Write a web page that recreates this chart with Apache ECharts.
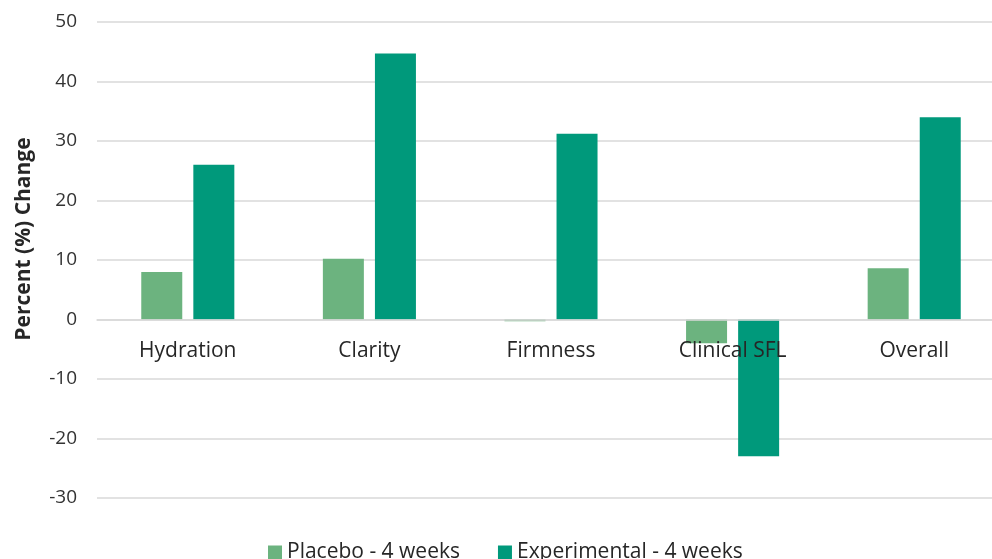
<!DOCTYPE html>
<html>
<head>
<meta charset="utf-8">
<script src="https://cdn.jsdelivr.net/npm/echarts@6/dist/echarts.min.js"></script>
<style>
  html, body { margin: 0; padding: 0; background: #fff; }
  #chart { width: 992px; height: 559px; }
</style>
</head>
<body>
<div id="chart"></div>
<script>
// Categories measured and the two treatment arms (percent change at 4 weeks)
const categories = ['Hydration', 'Clarity', 'Firmness', 'Clinical SFL', 'Overall'];
const placeboValues = [8.0, 10.2, -0.3, -4.0, 8.6];
const experimentalValues = [26.0, 44.7, 31.2, -23.0, 34.0];
const seriesNames = ['Placebo - 4 weeks', 'Experimental - 4 weeks'];
const yTicks = { min: -30, max: 50, interval: 10 };

const FONT = '"Open Sans", Lato, sans-serif';

const GRID_TOP = 22;
const GRID_BOTTOM = 61;
const CHART_H = 559;
// distance from the bottom of the plot up to the zero line, so the category axis sits on y = 0
const plotH = CHART_H - GRID_TOP - GRID_BOTTOM;
const zeroLift = plotH * (0 - yTicks.min) / (yTicks.max - yTicks.min);

const chart = echarts.init(document.getElementById('chart'), null, { renderer: 'canvas' });

chart.setOption({
  animation: false,
  backgroundColor: '#ffffff',
  textStyle: { fontFamily: FONT },
  // plot area runs slightly past the right edge of the canvas
  grid: { left: 97, width: 908, top: GRID_TOP, bottom: GRID_BOTTOM, containLabel: false, outerBoundsMode: 'none' },
  legend: {
    data: seriesNames,
    top: 537,
    left: 263,
    icon: 'rect',
    itemWidth: 14,
    itemHeight: 14,
    itemGap: 38,
    textStyle: { fontFamily: FONT, fontSize: 21, color: '#262626' }
  },
  xAxis: {
    type: 'category',
    data: categories,
    z: 10,
    offset: -zeroLift,
    axisLine: { show: true, onZero: false, lineStyle: { color: '#d9d9d9', width: 1.5 } },
    axisTick: { show: false },
    axisLabel: { fontFamily: FONT, fontSize: 21, color: '#262626', margin: 21 },
    splitLine: { show: false }
  },
  yAxis: {
    type: 'value',
    min: yTicks.min,
    max: yTicks.max,
    interval: yTicks.interval,
    name: 'Percent (%) Change',
    nameLocation: 'middle',
    nameGap: 62,
    nameTextStyle: { fontFamily: FONT, fontSize: 21, fontWeight: 'bold', color: '#262626', padding: [0, 0, 0, 42] },
    axisLine: { show: false },
    axisTick: { show: false },
    axisLabel: { fontFamily: FONT, fontSize: 19, color: '#333333', margin: 20 },
    splitLine: { show: true, lineStyle: { color: '#d9d9d9', width: 1.5 } }
  },
  series: [
    {
      name: seriesNames[0],
      type: 'bar',
      data: placeboValues,
      barWidth: 41,
      barGap: '27%',
      itemStyle: { color: '#6cb37f' }
    },
    {
      name: seriesNames[1],
      type: 'bar',
      data: experimentalValues,
      barWidth: 41,
      barGap: '27%',
      itemStyle: { color: '#00997b' }
    }
  ]
});
</script>
</body>
</html>
